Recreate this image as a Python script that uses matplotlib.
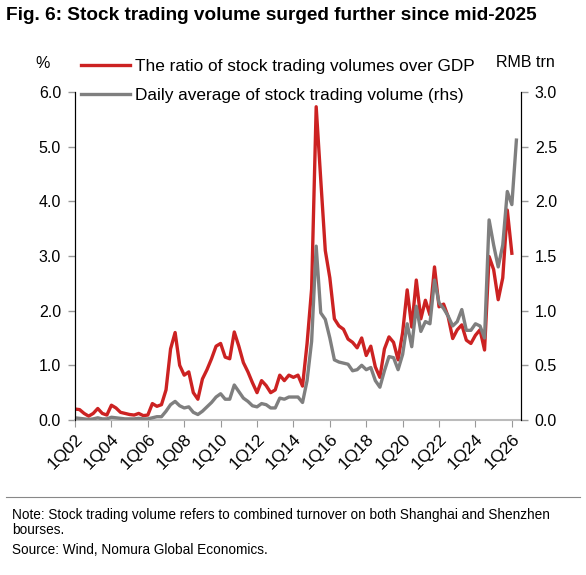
import numpy as np
import matplotlib.pyplot as plt
from matplotlib.lines import Line2D

plt.rcParams['font.family'] = ['Liberation Sans', 'DejaVu Sans']

# quarterly labels 1Q02 .. 2Q26
quarters = [f"{q}Q{y:02d}" for y in range(2, 27) for q in range(1, 5)][:98]

# ratio of stock trading volume over GDP, % (lhs), 1Q02..1Q26
ratio_gdp = [
    0.20, 0.19, 0.12, 0.07, 0.12, 0.21, 0.12, 0.09, 0.27, 0.22,
    0.14, 0.12, 0.10, 0.09, 0.12, 0.08, 0.09, 0.30, 0.25, 0.28,
    0.55, 1.30, 1.60, 1.00, 0.82, 0.88, 0.50, 0.38, 0.75, 0.92,
    1.12, 1.35, 1.40, 1.15, 1.12, 1.61, 1.35, 1.05, 0.88, 0.68,
    0.50, 0.72, 0.63, 0.50, 0.55, 0.82, 0.72, 0.82, 0.78, 0.82,
    0.62, 1.40, 2.40, 5.73, 4.40, 3.10, 2.60, 1.85, 1.72, 1.66,
    1.48, 1.42, 1.32, 1.50, 1.18, 1.35, 0.97, 0.78, 1.30, 1.52,
    1.42, 1.10, 1.60, 2.38, 1.70, 2.56, 1.85, 2.19, 1.92, 2.80,
    2.07, 2.12, 1.89, 1.49, 1.65, 1.74, 1.46, 1.40, 1.55, 1.65,
    1.28, 2.99, 2.75, 2.20, 2.60, 3.84, 3.05,
]

# daily average stock trading volume, RMB trn (rhs), 1Q02..2Q26
daily_volume = [
    0.02, 0.015, 0.01, 0.005, 0.01, 0.02, 0.01, 0.01, 0.025, 0.02,
    0.015, 0.01, 0.01, 0.01, 0.015, 0.01, 0.01, 0.02, 0.03, 0.03,
    0.08, 0.14, 0.17, 0.13, 0.11, 0.12, 0.07, 0.05, 0.08, 0.12,
    0.16, 0.21, 0.24, 0.19, 0.19, 0.32, 0.26, 0.20, 0.17, 0.13,
    0.12, 0.15, 0.14, 0.11, 0.11, 0.20, 0.19, 0.21, 0.21, 0.21,
    0.16, 0.36, 0.72, 1.59, 0.98, 0.92, 0.75, 0.55, 0.53, 0.52,
    0.51, 0.45, 0.46, 0.50, 0.46, 0.48, 0.36, 0.30, 0.45, 0.58,
    0.57, 0.46, 0.60, 0.88, 0.67, 1.04, 0.81, 0.90, 0.88, 1.28,
    1.07, 1.02, 0.95, 0.86, 0.90, 1.01, 0.82, 0.82, 0.88, 0.86,
    0.75, 1.83, 1.60, 1.40, 1.60, 2.09, 1.97, 2.56,
]

red = '#CC2222'
grey = '#7F7F7F'

fig = plt.figure(figsize=(5.86, 5.75), dpi=100)
ax = fig.add_axes([0.128, 0.2696, 0.761, 0.5704])
ax2 = ax.twinx()

ax.plot(np.arange(len(ratio_gdp)), ratio_gdp, color=red, lw=2.4, solid_joinstyle='round')
ax2.plot(np.arange(len(daily_volume)), daily_volume, color=grey, lw=2.4, solid_joinstyle='round')

ax.set_xlim(0, 98)
ax.set_ylim(0, 6)
ax2.set_ylim(0, 3)
ax.set_yticks(np.arange(0, 6.1, 1.0))
ax.set_yticklabels([f"{v:.1f}" for v in np.arange(0, 6.1, 1.0)])
ax2.set_yticks(np.arange(0, 3.1, 0.5))
ax2.set_yticklabels([f"{v:.1f}" for v in np.arange(0, 3.1, 0.5)])

xt = list(range(0, 97, 8))
ax.set_xticks(xt)
ax.set_xticklabels([quarters[i] for i in xt], rotation=45, ha='right',
                   rotation_mode='anchor', fontsize=12.5)

for a in (ax, ax2):
    a.spines['top'].set_visible(False)
    a.tick_params(axis='y', labelsize=11.5, length=5, color='#999999', width=1)
ax.spines['left'].set_color('black')
ax2.spines['right'].set_color('black')
ax.spines['bottom'].set_color('#BBBBBB')
ax.spines['bottom'].set_linewidth(1.5)
ax2.spines['bottom'].set_visible(False)
ax.tick_params(axis='x', length=5, color='#999999', pad=3)
ax.tick_params(axis='y', pad=5)
ax2.tick_params(axis='y', pad=5)

handles = [Line2D([], [], color=red, lw=2.4), Line2D([], [], color=grey, lw=2.4)]
fig.legend(handles, ['The ratio of stock trading volumes over GDP',
                     'Daily average of stock trading volume (rhs)'],
           loc='upper left', bbox_to_anchor=(0.139, 0.898), frameon=False,
           fontsize=12.4, handlelength=2.8, handletextpad=0.3, labelspacing=0.85,
           borderaxespad=0, borderpad=0)

fig.text(0.01, 0.973, 'Fig. 6: Stock trading volume surged further since mid-2025',
         fontsize=13.7, fontweight='bold', va='center')
fig.text(0.073, 0.889, '%', fontsize=11.5, ha='center', va='center')
fig.text(0.897, 0.892, 'RMB trn', fontsize=11.5, ha='center', va='center')

fig.add_artist(Line2D([0.01, 0.99], [0.135, 0.135], color='#888888', lw=0.8))
fig.text(0.02, 0.116, 'Note: Stock trading volume refers to combined turnover on both Shanghai and Shenzhen\nbourses.',
         fontsize=9.8, va='top', linespacing=1.1)
fig.text(0.02, 0.043, 'Source: Wind, Nomura Global Economics.', fontsize=9.8, va='center')

fig.savefig('out.png', dpi=100)
